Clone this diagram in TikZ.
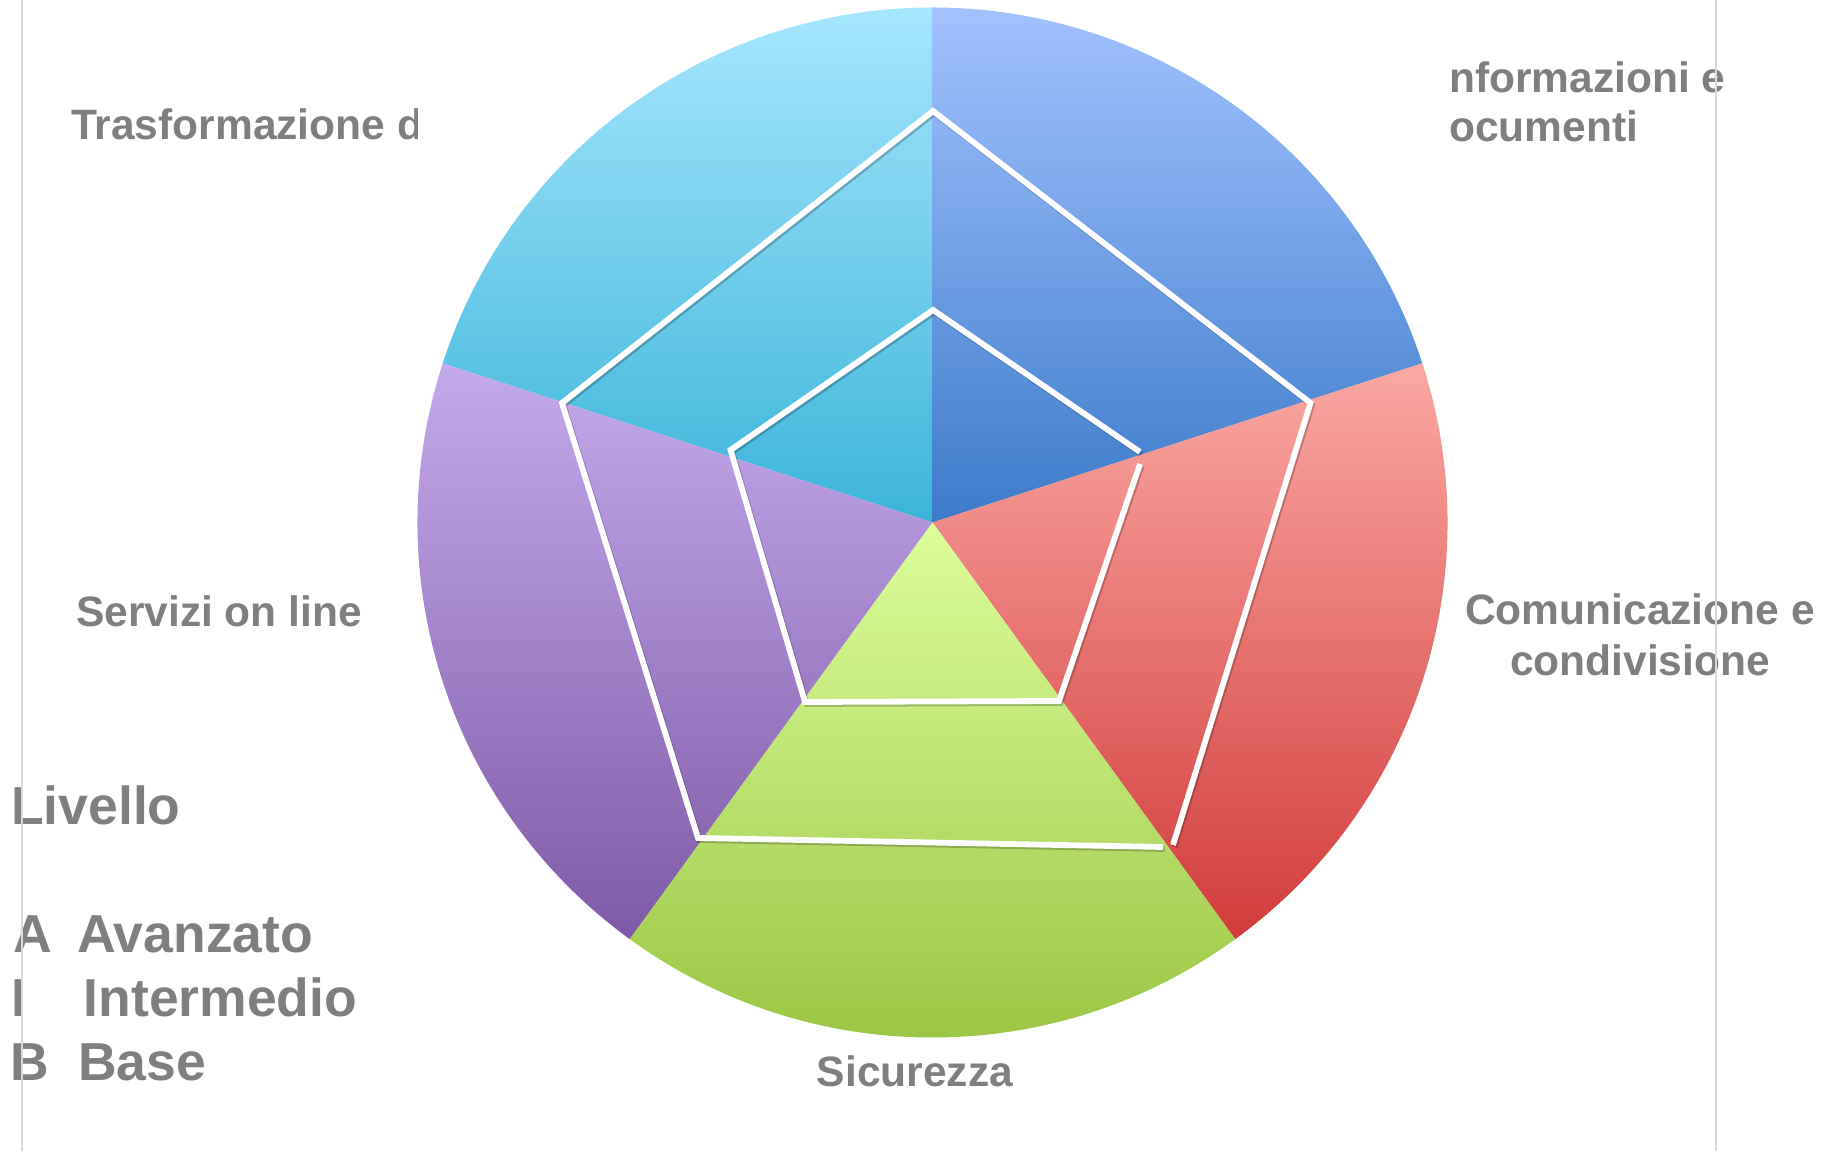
\documentclass[tikz,border=0pt]{standalone}
\usepackage{fontspec}
\setmainfont{Liberation Sans}
\definecolor{txtgray}{HTML}{7F7F7F}
\definecolor{rulegray}{HTML}{D9D9D9}
\definecolor{cyanT}{HTML}{A6E6FE}
\definecolor{cyanB}{HTML}{3BB4D8}
\definecolor{blueT}{HTML}{A3C2FF}
\definecolor{blueB}{HTML}{3C7BCA}
\definecolor{redT}{HTML}{FBA8A3}
\definecolor{redB}{HTML}{D13B3B}
\definecolor{purpT}{HTML}{C4AAEB}
\definecolor{purpB}{HTML}{7E5AA6}
\definecolor{greenT}{HTML}{DCFE9C}
\definecolor{greenB}{HTML}{9CC645}
\begin{document}
\begin{tikzpicture}[x=1pt,y=1pt,
  lbl/.style={inner sep=0pt, text=txtgray, font=\fontsize{42.5}{50}\selectfont\bfseries},
  leg/.style={inner sep=0pt, text=txtgray, font=\fontsize{53.5}{62}\selectfont\bfseries, anchor=base west},
  radar/.style={draw=white, line width=5.8pt, line join=miter},
  radarshadow/.style={draw=black, draw opacity=0.22, line width=5.8pt, line join=miter, transform canvas={shift={(1.5pt,-2pt)}}},
  vrule/.style={draw=rulegray, line width=2pt}]
\useasboundingbox (0,0) rectangle (1833,1151);
\fill[white] (0,0) rectangle (1833,1151);

\coordinate (C) at (932.5,628.5);
\def\R{515pt}

% sectors
\begin{scope}
  \clip (C) -- ++(90:\R) arc[start angle=90,end angle=162,radius=\R] -- cycle;
  \shade[top color=cyanT,bottom color=cyanB] (400,628.5) rectangle (950,1143.5);
\end{scope}
\begin{scope}
  \clip (C) -- ++(18:\R) arc[start angle=18,end angle=90,radius=\R] -- cycle;
  \shade[top color=blueT,bottom color=blueB] (920,628.5) rectangle (1460,1143.5);
\end{scope}
\begin{scope}
  \clip (C) -- ++(-54:\R) arc[start angle=-54,end angle=18,radius=\R] -- cycle;
  \shade[top color=redT,bottom color=redB] (920,211.9) rectangle (1460,787.6);
\end{scope}
\begin{scope}
  \clip (C) -- ++(162:\R) arc[start angle=162,end angle=234,radius=\R] -- cycle;
  \shade[top color=purpT,bottom color=purpB] (400,211.9) rectangle (950,787.6);
\end{scope}
\begin{scope}
  \clip (C) -- ++(234:\R) arc[start angle=234,end angle=306,radius=\R] -- cycle;
  \shade[top color=greenT,bottom color=greenB] (600,113.5) rectangle (1260,628.5);
\end{scope}

% radar polygons
\coordinate (O1) at (933,1040);
\coordinate (O2) at (1310.5,748);
\coordinate (O3r) at (1173,306);
\coordinate (O3b) at (1163,304);
\coordinate (O4) at (698,313);
\coordinate (O5) at (562,748);
\coordinate (I1) at (933,841);
\coordinate (I2a) at (1140,699);
\coordinate (I2b) at (1140,687);
\coordinate (I3) at (1059,450);
\coordinate (I4) at (805,449);
\coordinate (I5) at (730.6,701);

\draw[radarshadow] (O3b) -- (O4) -- (O5) -- (O1) -- (O2) -- (O3r);
\draw[radarshadow] (I2b) -- (I3) -- (I4) -- (I5) -- (I1) -- (I2a);
\draw[radar] (O3b) -- (O4) -- (O5) -- (O1) -- (O2) -- (O3r);
\draw[radar] (I2b) -- (I3) -- (I4) -- (I5) -- (I1) -- (I2a);

% labels
\begin{scope}
  \clip (0,0) rectangle (417,1151);
  \node[lbl, anchor=base west] (trasf) at (71,1011) {Trasformazione d};
\end{scope}
\node[lbl, anchor=base west] (info1) at (1449,1058) {nformazioni e};
\node[lbl, anchor=base west] (info2) at (1449,1009) {ocumenti};
\node[lbl, anchor=base] (com1) at (1640,526) {Comunicazione e};
\node[lbl, anchor=base] (com2) at (1640,475) {condivisione};
\node[lbl, anchor=base west] (serv) at (76,524) {Servizi on line};
\node[lbl, anchor=base] (sic) at (915,65) {Sicurezza};

\node[leg] (liv) at (11,326) {Livello};
\node[leg] (la) at (13,198) {\makebox[64pt][l]{A}Avanzato};
\node[leg] (li) at (11,134) {\makebox[72.5pt][l]{I}Intermedio};
\node[leg] (lb) at (10,71) {\makebox[68pt][l]{B}Base};

% vertical rules
\draw[vrule] (22,0) -- (22,1151);
\draw[vrule] (1715.5,0) -- (1715.5,1151);
\end{tikzpicture}
\end{document}
